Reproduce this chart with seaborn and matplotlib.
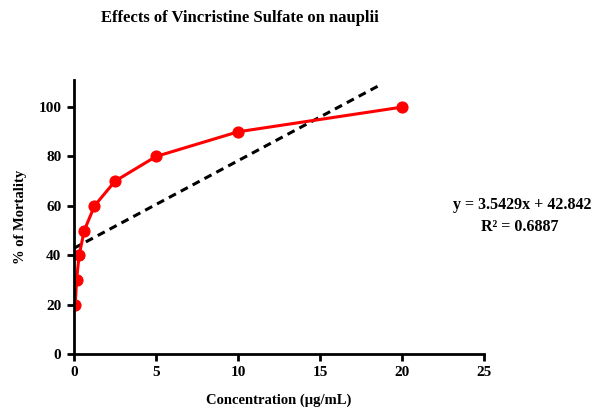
import numpy as np
import pandas as pd
import matplotlib
matplotlib.use("Agg")
import matplotlib.pyplot as plt
import seaborn as sns

# data
conc = [0.078, 0.156, 0.3125, 0.625, 1.25, 2.5, 5, 10, 20]
mortality = [20, 30, 40, 50, 60, 70, 80, 90, 100]
slope = 3.5429
intercept = 42.842
r2 = 0.6887
trend_x = [0, 18.7]

df = pd.DataFrame({"conc": conc, "mortality": mortality})
trend = pd.DataFrame({"x": trend_x, "y": [slope * v + intercept for v in trend_x]})

sns.set_style("ticks", {"axes.edgecolor": "black", "xtick.color": "black",
                        "ytick.color": "black", "text.color": "black",
                        "axes.labelcolor": "black"})
plt.rcParams["font.family"] = ["Liberation Serif", "DejaVu Serif"]
plt.rcParams["font.weight"] = "bold"

fig = plt.figure(figsize=(6.08, 4.09), dpi=100)
ax = fig.add_axes([0.1217, 0.1345, 0.6743, 0.67])

sns.lineplot(data=trend, x="x", y="y", ax=ax, color="black", lw=2.2,
             linestyle=(0, (2.6, 1.8)))
sns.lineplot(data=df, x="conc", y="mortality", ax=ax, color="#ff0000", lw=2.2,
             marker="o", markersize=8, markeredgecolor="#ff0000")

ax.set_xlim(0, 25)
ax.set_ylim(0, 111)
ax.set_xticks([0, 5, 10, 15, 20, 25])
ax.set_yticks([0, 20, 40, 60, 80, 100])
sns.despine(ax=ax)
for s in ["left", "bottom"]:
    ax.spines[s].set_linewidth(2)
ax.tick_params(width=2, length=5, labelsize=11, pad=4, colors="black")
for lab in ax.get_xticklabels() + ax.get_yticklabels():
    lab.set_fontweight("bold")

ax.set_xlabel("Concentration (µg/mL)", fontsize=10.5, fontweight="bold", labelpad=10)
ax.set_ylabel("% of Mortality", fontsize=10.5, fontweight="bold", labelpad=8)
fig.text(0.395, 0.955, "Effects of Vincristine Sulfate on nauplii", ha="center",
         va="center", fontsize=12, fontweight="bold")

fig.text(0.859, 0.498, f"y = {slope}x + {intercept}", ha="center", va="center",
         fontsize=11.5, fontweight="bold")
fig.text(0.855, 0.445, f"R² = {r2}", ha="center", va="center",
         fontsize=11.5, fontweight="bold")

fig.savefig("out.png", dpi=100)
